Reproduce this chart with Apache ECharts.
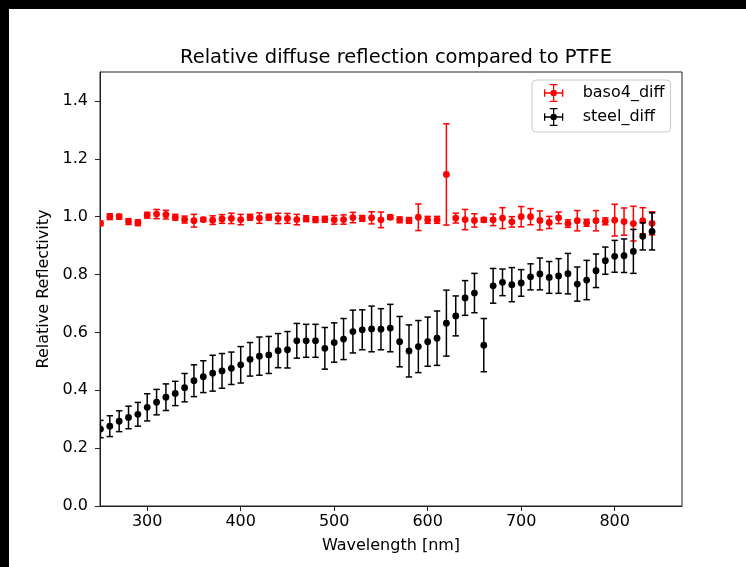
<!DOCTYPE html>
<html>
<head>
<meta charset="utf-8">
<script src="https://cdn.jsdelivr.net/npm/echarts@6/dist/echarts.min.js"></script>
<style>
html,body{margin:0;padding:0;background:#fff;}
#wrap{position:relative;width:746px;height:567px;overflow:hidden;background:#fff;}
#chart{position:absolute;left:0;top:0;width:746px;height:567px;}
.bar{position:absolute;background:#000;z-index:10;}
</style>
</head>
<body>
<div id="wrap">
<div id="chart"></div>
<div class="bar" style="left:0;top:0;width:746px;height:9px;"></div>
<div class="bar" style="left:0;top:0;width:9px;height:567px;"></div>
</div>
<script>
const wavelengths = [250,260,270,280,290,300,310,320,330,340,350,360,370,380,390,400,410,420,430,440,450,460,470,480,490,500,510,520,530,540,550,560,570,580,590,600,610,620,630,640,650,660,670,680,690,700,710,720,730,740,750,760,770,780,790,800,810,820,830,840];

const baso4Mean = [0.977,1.000,1.000,0.983,0.979,1.005,1.009,1.007,0.998,0.990,0.986,0.990,0.988,0.992,0.994,0.990,0.998,0.995,0.998,0.994,0.994,0.990,0.993,0.990,0.991,0.989,0.990,0.997,0.994,0.996,0.989,0.998,0.989,0.987,0.998,0.989,0.989,1.146,0.995,0.990,0.987,0.989,0.989,0.995,0.982,1.000,1.000,0.987,0.980,0.996,0.976,0.986,0.979,0.986,0.984,0.988,0.983,0.976,0.986,0.977];
const baso4Err = [0.008,0.010,0.008,0.010,0.010,0.010,0.016,0.015,0.010,0.012,0.022,0.007,0.015,0.015,0.018,0.018,0.010,0.018,0.010,0.018,0.017,0.018,0.010,0.010,0.010,0.015,0.016,0.018,0.010,0.021,0.027,0.007,0.010,0.010,0.046,0.012,0.012,0.175,0.017,0.035,0.023,0.008,0.020,0.036,0.018,0.035,0.028,0.033,0.021,0.020,0.013,0.035,0.012,0.035,0.012,0.055,0.047,0.060,0.045,0.040];

const steelMean = [0.266,0.276,0.293,0.306,0.317,0.341,0.359,0.376,0.389,0.409,0.433,0.447,0.459,0.467,0.476,0.488,0.507,0.518,0.522,0.537,0.540,0.571,0.571,0.571,0.545,0.565,0.577,0.603,0.609,0.612,0.611,0.615,0.568,0.536,0.551,0.568,0.580,0.632,0.657,0.719,0.736,0.556,0.761,0.773,0.765,0.771,0.792,0.802,0.790,0.795,0.803,0.767,0.781,0.813,0.848,0.863,0.865,0.880,0.932,0.949];
const steelErr = [0.030,0.036,0.036,0.039,0.041,0.047,0.044,0.046,0.042,0.049,0.055,0.055,0.062,0.060,0.056,0.063,0.058,0.066,0.064,0.059,0.063,0.060,0.057,0.057,0.072,0.068,0.071,0.074,0.069,0.079,0.071,0.082,0.087,0.090,0.090,0.085,0.094,0.114,0.069,0.060,0.068,0.092,0.060,0.046,0.059,0.046,0.045,0.055,0.055,0.060,0.070,0.059,0.068,0.058,0.047,0.055,0.058,0.076,0.047,0.064];

const xTicks = [300,400,500,600,700,800];
const yTicks = [0.0,0.2,0.4,0.6,0.8,1.0,1.2,1.4];

const FONT = 'DejaVu Sans';
const legendIcon = 'path://M0,14 L30,14 L30,16 L0,16 Z M0,9 L2,9 L2,21 L0,21 Z M28,9 L30,9 L30,21 L28,21 Z M14,2 L16,2 L16,28 L14,28 Z M9,1 L21,1 L21,3 L9,3 Z M9,27 L21,27 L21,29 L9,29 Z M15,10 A5,5 0 1,1 15,20 A5,5 0 1,1 15,10 Z';

function errSeries(name, color, means, errs, z) {
  return {
    type: 'custom',
    name: name,
    clip: true,
    z: z,
    itemStyle: {color: color},
    dimensions: ['x', 'y', 'e'],
    encode: {x: 0, y: 1},
    data: wavelengths.map((w, i) => [w, means[i], errs[i]]),
    renderItem: function (params, api) {
      const x = api.value(0), y = api.value(1), e = api.value(2);
      const c = api.coord([x, y]);
      const lo = api.coord([x, y - e]);
      const hi = api.coord([x, y + e]);
      const cap = 3.2;
      const st = {stroke: color, lineWidth: 1.5, fill: null};
      return {
        type: 'group',
        children: [
          {type: 'line', shape: {x1: c[0], y1: hi[1], x2: c[0], y2: lo[1]}, style: st},
          {type: 'line', shape: {x1: c[0] - cap, y1: hi[1], x2: c[0] + cap, y2: hi[1]}, style: st},
          {type: 'line', shape: {x1: c[0] - cap, y1: lo[1], x2: c[0] + cap, y2: lo[1]}, style: st},
          {type: 'circle', shape: {cx: c[0], cy: c[1], r: 3.4}, style: {fill: color}}
        ]
      };
    }
  };
}

const chart = echarts.init(document.getElementById('chart'));
chart.setOption({
  animation: false,
  backgroundColor: '#fff',
  textStyle: {fontFamily: FONT},
  title: {
    text: 'Relative diffuse reflection compared to PTFE',
    left: 391, top: 43, textAlign: 'center',
    textStyle: {fontFamily: FONT, fontSize: 19.5, fontWeight: 'normal', color: '#000'}
  },
  grid: {left: 100, right: 64, top: 72, bottom: 61, show: true, borderColor: '#222', borderWidth: 1, backgroundColor: 'transparent'},
  legend: {
    orient: 'vertical',
    left: 532, top: 80,
    padding: [4, 6, 6, 12],
    itemGap: 6,
    itemWidth: 20, itemHeight: 18,
    backgroundColor: 'rgba(255,255,255,0.8)',
    borderColor: '#ccc', borderWidth: 1, borderRadius: 4,
    textStyle: {fontFamily: FONT, fontSize: 16, lineHeight: 18, color: '#000', padding: [0, 0, 0, 14]},
    data: [
      {name: 'baso4_diff', icon: legendIcon},
      {name: 'steel_diff', icon: legendIcon}
    ]
  },
  xAxis: {
    type: 'value', min: 249.5, max: 872,
    name: 'Wavelength [nm]', nameLocation: 'middle', nameGap: 32,
    nameTextStyle: {fontFamily: FONT, fontSize: 16, color: '#000'},
    axisLine: {show: true, lineStyle: {color: '#222', width: 1}},
    axisTick: {show: true, length: 5, lineStyle: {color: '#222'}, customValues: xTicks},
    axisLabel: {fontFamily: FONT, fontSize: 16, color: '#000', margin: 8, customValues: xTicks},
    splitLine: {show: false}
  },
  yAxis: {
    type: 'value', min: 0, max: 1.5,
    name: 'Relative Reflectivity', nameLocation: 'middle', nameGap: 45, nameRotate: 90,
    nameTextStyle: {fontFamily: FONT, fontSize: 16, color: '#000'},
    axisLine: {show: true, lineStyle: {color: '#222', width: 1}},
    axisTick: {show: true, length: 5, lineStyle: {color: '#222'}, customValues: yTicks},
    axisLabel: {fontFamily: FONT, fontSize: 16, color: '#000', margin: 12, customValues: yTicks,
      formatter: v => v.toFixed(1)},
    splitLine: {show: false}
  },
  series: [
    errSeries('baso4_diff', '#ff0000', baso4Mean, baso4Err, 2),
    errSeries('steel_diff', '#000000', steelMean, steelErr, 3)
  ]
});
</script>
</body>
</html>
